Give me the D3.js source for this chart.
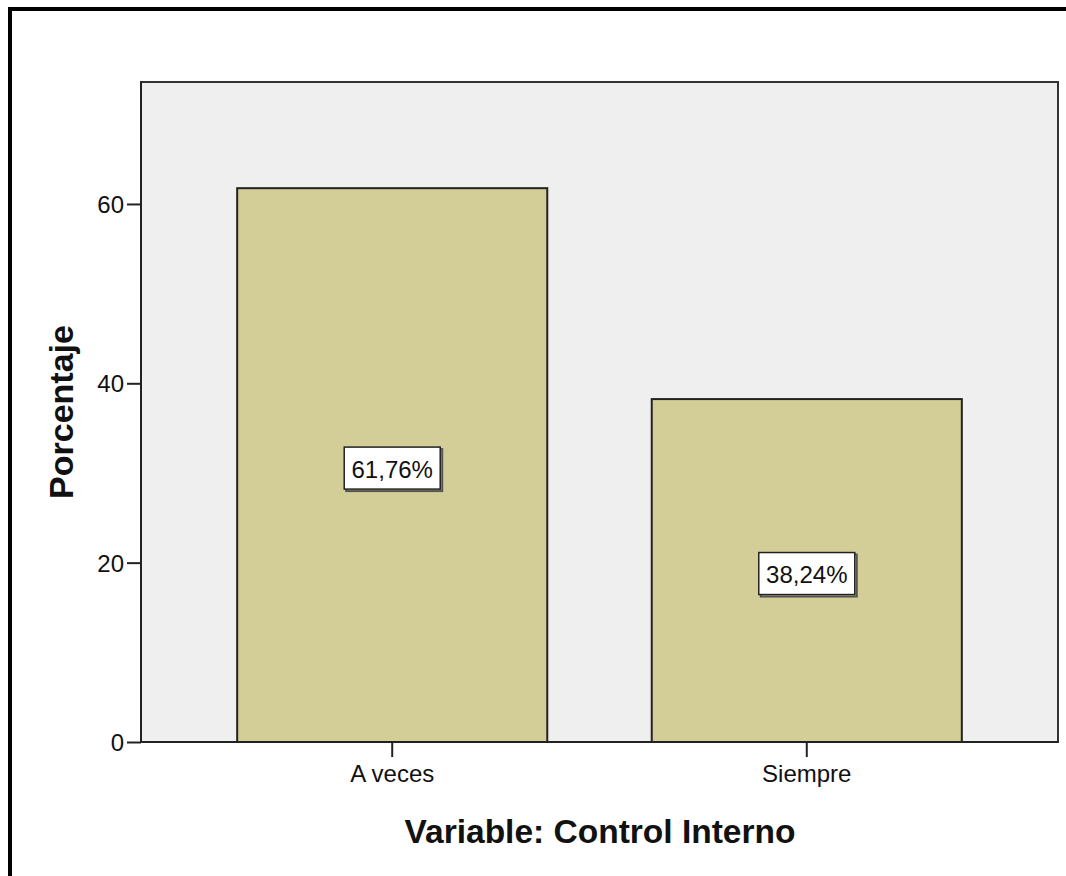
<!DOCTYPE html>
<html><head><meta charset="utf-8">
<script src="https://cdn.jsdelivr.net/npm/d3@7"></script>
<style>body{margin:0;background:#fff}svg{display:block}</style>
</head><body>
<script>
const categories = ["A veces", "Siempre"];
const values = [61.76, 38.24];
const valueLabels = ["61,76%", "38,24%"];
const yTicks = [0, 20, 40, 60];
const xTitle = "Variable: Control Interno";
const yTitle = "Porcentaje";

const W = 1066, H = 876;
const svg = d3.select("body").append("svg").attr("width", W).attr("height", H);
svg.append("rect").attr("width", W).attr("height", H).attr("fill", "#fff");

// outer frame (cropped at right/bottom)
svg.append("rect").attr("x", 10).attr("y", 9).attr("width", 1200).attr("height", 1000)
  .attr("fill", "none").attr("stroke", "#000").attr("stroke-width", 4);

const L = 141, R = 1058, T = 82, B = 742;
const x = d3.scaleBand().domain(categories).range([L, R]).paddingInner(0.252).paddingOuter(0.232);
const y = d3.scaleLinear().domain([0, 73.6]).range([B, T]);

svg.append("rect").attr("x", L).attr("y", T).attr("width", R - L).attr("height", B - T)
  .attr("fill", "#efefef");

const font = "Liberation Sans, Arial, sans-serif";

svg.selectAll("rect.bar").data(values).enter().append("rect").attr("class", "bar")
  .attr("x", (d, i) => x(categories[i])).attr("width", x.bandwidth())
  .attr("y", d => y(d)).attr("height", d => B - y(d))
  .attr("fill", "#d3ce97").attr("stroke", "#222").attr("stroke-width", 2);

// value labels
const lg = svg.selectAll("g.lab").data(values).enter().append("g").attr("class", "lab")
  .attr("transform", (d, i) => `translate(${x(categories[i]) + x.bandwidth() / 2},${y(d / 2) + 3})`);
lg.append("rect").attr("x", -47).attr("y", -20).attr("width", 96).attr("height", 42)
  .attr("fill", "none").attr("stroke", "#555").attr("stroke-width", 2).attr("transform", "translate(1,1)");
lg.append("rect").attr("x", -48).attr("y", -21).attr("width", 96).attr("height", 42)
  .attr("fill", "#fff").attr("stroke", "#222").attr("stroke-width", 1.5);
lg.append("text").text((d, i) => valueLabels[i]).attr("text-anchor", "middle").attr("dy", "0.4em")
  .attr("font-family", font).attr("font-size", 24).attr("fill", "#111");

// plot frame
svg.append("rect").attr("x", L).attr("y", T).attr("width", R - L).attr("height", B - T)
  .attr("fill", "none").attr("stroke", "#333").attr("stroke-width", 2);

// y axis
const yAxis = svg.append("g").attr("transform", `translate(${L},0)`)
  .call(d3.axisLeft(y).tickValues(yTicks).tickSize(14).tickPadding(3));
yAxis.select(".domain").attr("stroke", "#222").attr("stroke-width", 2).attr("d", `M0,${B}V${T}`);
yAxis.selectAll(".tick line").attr("stroke", "#222").attr("stroke-width", 2);
yAxis.selectAll(".tick text").attr("font-family", font).attr("font-size", 24).attr("fill", "#111").attr("dy", "0.36em");

// x axis
const xAxis = svg.append("g").attr("transform", `translate(0,${B})`)
  .call(d3.axisBottom(x).tickSize(15).tickPadding(8));
xAxis.select(".domain").attr("stroke", "#222").attr("stroke-width", 2).attr("d", `M${L},0H${R}`);
xAxis.selectAll(".tick line").attr("stroke", "#222").attr("stroke-width", 2);
xAxis.selectAll(".tick text").attr("font-family", font).attr("font-size", 24).attr("fill", "#111");

svg.append("text").text(xTitle).attr("x", 600).attr("y", 843).attr("text-anchor", "middle")
  .attr("font-family", font).attr("font-weight", "bold").attr("font-size", 33.5).attr("fill", "#111");
svg.append("text").text(yTitle).attr("transform", "translate(73,412) rotate(-90)").attr("text-anchor", "middle")
  .attr("font-family", font).attr("font-weight", "bold").attr("font-size", 34).attr("fill", "#111");
</script>
</body></html>
